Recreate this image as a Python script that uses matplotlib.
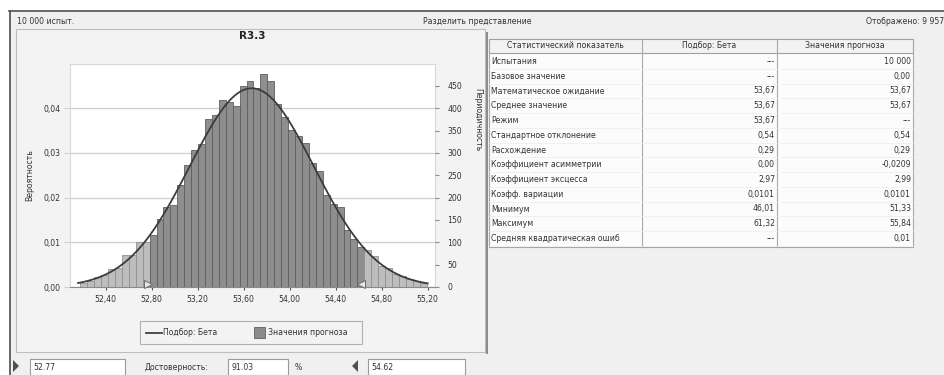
import matplotlib
matplotlib.use("Agg")
import matplotlib.pyplot as plt
import numpy as np
from matplotlib.patches import Rectangle, Polygon

plt.rcParams['font.family'] = ['DejaVu Sans']

# ---------------- data ----------------
trials = 10000
bin_start = 52.18
bin_width = 0.0602
freq = [8, 13, 22, 26, 40, 42, 72, 72, 101, 100,
        116, 152, 180, 183, 228, 273, 306, 320, 377, 385,
        418, 415, 405, 450, 462, 445, 476, 462, 410, 380,
        352, 338, 322, 278, 260, 205, 185, 178, 128, 108,
        90, 82, 70, 48, 42, 30, 24, 18, 13, 9]
cert_low = 52.77
cert_high = 54.62
certainty = "91.03"
fit_mean = 53.67
fit_std = 0.54
x_ticks = [52.40, 52.80, 53.20, 53.60, 54.00, 54.40, 54.80, 55.20]
x_tick_labels = ["52,40", "52,80", "53,20", "53,60", "54,00", "54,40", "54,80", "55,20"]
y_ticks = [0.00, 0.01, 0.02, 0.03, 0.04]
y_tick_labels = ["0,00", "0,01", "0,02", "0,03", "0,04"]
freq_ticks = [0, 50, 100, 150, 200, 250, 300, 350, 400, 450]

stat_names = ["Испытания", "Базовое значение", "Математическое ожидание",
              "Среднее значение", "Режим", "Стандартное отклонение",
              "Расхождение", "Коэффициент асимметрии", "Коэффициент эксцесса",
              "Коэфф. вариации", "Минимум", "Максимум",
              "Средняя квадратическая ошиб"]
beta_vals = ["---", "---", "53,67", "53,67", "53,67", "0,54", "0,29",
             "0,00", "2,97", "0,0101", "46,01", "61,32", "---"]
forecast_vals = ["10 000", "0,00", "53,67", "53,67", "---", "0,54", "0,29",
                 "-0,0209", "2,99", "0,0101", "51,33", "55,84", "0,01"]
table_headers = ["Статистический показатель", "Подбор: Бета", "Значения прогноза"]

W, H = 945, 375
fig = plt.figure(figsize=(W / 100, H / 100), dpi=100)
fig.patch.set_facecolor("white")

# ------------- background UI (pixel coords) -------------
bg = fig.add_axes([0, 0, 1, 1])
bg.set_xlim(0, W)
bg.set_ylim(H, 0)
bg.axis("off")
bg.set_zorder(0)

tc = "#333333"
fs = 5.6
bg.add_patch(Rectangle((9, 11), W - 9, H - 11, facecolor="#f0f0f0", edgecolor="none"))
bg.plot([9, W], [11, 11], color="#505050", lw=1.2)
bg.plot([9.5, 9.5], [11, H], color="#505050", lw=1.2)

bg.text(17, 21, "10 000 испыт.", fontsize=fs, color=tc, va="center", ha="left")
bg.text(477, 21, "Разделить представление", fontsize=fs, color=tc, va="center", ha="center")
bg.text(944, 21, "Отображено: 9 957", fontsize=fs, color=tc, va="center", ha="right")

# left chart panel
bg.add_patch(Rectangle((16, 29), 469, 323, facecolor="#f3f3f3", edgecolor="#bdbdbd", lw=0.8))
bg.text(252, 36, "R3.3", fontsize=7.5, fontweight="bold", color="#222222", ha="center", va="center")
bg.text(30, 175, "Вероятность", fontsize=fs, color=tc, rotation=90, ha="center", va="center")
bg.text(478, 120, "Периодичность", fontsize=fs, color=tc, rotation=270, ha="center", va="center")

# legend box
bg.add_patch(Rectangle((140, 321), 222, 23, facecolor="#f3f3f3", edgecolor="#b0b0b0", lw=0.8))
bg.plot([146, 162], [332.5, 332.5], color="#404040", lw=1.3)
bg.text(163, 332.5, "Подбор: Бета", fontsize=fs, color=tc, va="center", ha="left")
bg.add_patch(Rectangle((254, 327), 11, 11, facecolor="#8c8c8c", edgecolor="#606060", lw=0.6))
bg.text(268, 332.5, "Значения прогноза", fontsize=fs, color=tc, va="center", ha="left")

# right table panel
bg.plot([487, 487], [33, 353], color="#8a8a8a", lw=1.4)
col_x = [489, 641.7, 776.7, 913]
bg.add_patch(Rectangle((489, 39), 424, 208, facecolor="#fcfcfc", edgecolor="none"))
bg.add_patch(Rectangle((489, 39), 424, 14, facecolor="#f3f3f3", edgecolor="#a0a0a0", lw=0.8))
for cx in col_x:
    bg.plot([cx, cx], [39, 247], color="#a8a8a8", lw=0.8)
bg.plot([489, 913], [247, 247], color="#a8a8a8", lw=0.8)
for j, h in enumerate(table_headers):
    bg.text((col_x[j] + col_x[j + 1]) / 2, 46, h, fontsize=fs, color=tc, ha="center", va="center")
row_y0, row_dy = 61.5, 14.75
for i in range(len(stat_names)):
    y = row_y0 + i * row_dy
    bg.plot([489, 913], [y + row_dy / 2, y + row_dy / 2], color="#ececec", lw=0.5)
    bg.text(491, y, stat_names[i], fontsize=fs, color=tc, ha="left", va="center")
    bg.text(775, y, beta_vals[i], fontsize=fs, color=tc, ha="right", va="center")
    bg.text(911, y, forecast_vals[i], fontsize=fs, color=tc, ha="right", va="center")

# bottom controls
bg.add_patch(Polygon([[13, 360], [13, 372], [19, 366]], closed=True, facecolor="#505050", edgecolor="none"))
bg.add_patch(Rectangle((30, 359), 95, 16, facecolor="white", edgecolor="#9a9a9a", lw=0.8))
bg.text(33, 367, f"{cert_low:.2f}", fontsize=fs, color=tc, va="center", ha="left")
bg.text(145, 367, "Достоверность:", fontsize=fs, color=tc, va="center", ha="left")
bg.add_patch(Rectangle((228, 359), 60, 16, facecolor="white", edgecolor="#9a9a9a", lw=0.8))
bg.text(231, 367, certainty, fontsize=fs, color=tc, va="center", ha="left")
bg.text(295, 367, "%", fontsize=fs, color=tc, va="center", ha="left")
bg.add_patch(Polygon([[358, 360], [358, 372], [352, 366]], closed=True, facecolor="#505050", edgecolor="none"))
bg.add_patch(Rectangle((368, 359), 97, 16, facecolor="white", edgecolor="#9a9a9a", lw=0.8))
bg.text(371, 367, f"{cert_high:.2f}", fontsize=fs, color=tc, va="center", ha="left")

# ------------- chart -------------
L, R, T, B = 70, 435, 64, 287
ax = fig.add_axes([L / W, 1 - B / H, (R - L) / W, (B - T) / H])
ax.set_zorder(2)
ax.set_facecolor("white")
ax.set_xlim(52.09, 55.263)
ax.set_ylim(0, 0.0499)

prob = np.array(freq) / trials
edges = bin_start + bin_width * np.arange(len(freq))
centers = edges + bin_width / 2
inside = (centers >= cert_low) & (centers <= cert_high)
fc = np.where(inside, "#8e8e8e", "#bdbdbd")
ec = np.where(inside, "#5e5e5e", "#909090")
ax.bar(edges, prob, width=bin_width, align="edge", color=fc, edgecolor=ec, linewidth=0.6, zorder=2)

xs = np.linspace(bin_start - 0.02, edges[-1] + bin_width + 0.01, 300)
pdf = np.exp(-0.5 * ((xs - fit_mean) / fit_std) ** 2) / (fit_std * np.sqrt(2 * np.pi))
ax.plot(xs, pdf * bin_width, color="#3c3c3c", lw=1.3, zorder=3)

ax.set_yticks(y_ticks)
ax.set_yticklabels(y_tick_labels)
ax.set_xticks(x_ticks)
ax.set_xticklabels(x_tick_labels)
ax.grid(axis="y", color="#cfcfcf", lw=0.9, zorder=0)
ax.set_axisbelow(True)
ax.tick_params(axis="x", labelsize=fs, colors="#555555", length=2.5, pad=3, labelcolor=tc)
ax.tick_params(axis="y", labelsize=fs, colors="#cfcfcf", length=4, pad=3, labelcolor=tc)
for s in ["top", "right", "left"]:
    ax.spines[s].set_color("#d8d8d8")
ax.spines["bottom"].set_color("#8a8a8a")

# certainty grabbers
ax.plot([cert_low], [0.0006], marker=">", markersize=6, markerfacecolor="#e6e6e6",
        markeredgecolor="#6a6a6a", markeredgewidth=0.7, clip_on=False, zorder=5)
ax.plot([cert_high], [0.0006], marker="<", markersize=6, markerfacecolor="#e6e6e6",
        markeredgecolor="#6a6a6a", markeredgewidth=0.7, clip_on=False, zorder=5)

ax2 = ax.twinx()
ax2.set_ylim(0, 0.0499 * trials)
ax2.set_yticks(freq_ticks)
ax2.set_yticklabels([str(v) for v in freq_ticks])
ax2.tick_params(axis="y", labelsize=fs, colors="#8a8a8a", length=3, pad=6, labelcolor=tc)
for s in ["top", "right", "left", "bottom"]:
    ax2.spines[s].set_visible(False)

fig.savefig("out.png", dpi=100, facecolor=fig.get_facecolor())
